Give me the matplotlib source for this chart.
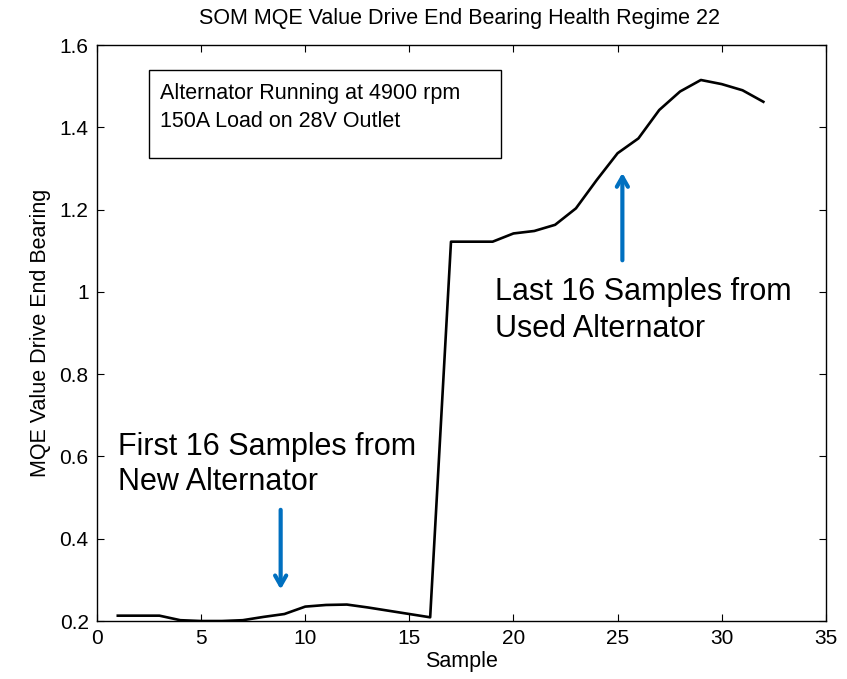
import matplotlib.pyplot as plt
from matplotlib.patches import Rectangle

plt.rcParams['font.family'] = ['Liberation Sans', 'DejaVu Sans']

# SOM MQE value per sample, drive end bearing
samples = list(range(1, 33))
mqe = [0.213, 0.213, 0.213, 0.202, 0.200, 0.200, 0.202, 0.210,
       0.217, 0.235, 0.239, 0.240, 0.233, 0.225, 0.217, 0.209,
       1.122, 1.122, 1.122, 1.142, 1.148, 1.163, 1.203, 1.272,
       1.337, 1.373, 1.442, 1.487, 1.515, 1.505, 1.490, 1.462]

xticks = [0, 5, 10, 15, 20, 25, 30, 35]
yticks = [0.2, 0.4, 0.6, 0.8, 1.0, 1.2, 1.4, 1.6]
ytick_labels = ['0.2', '0.4', '0.6', '0.8', '1', '1.2', '1.4', '1.6']

box_lines = ['Alternator Running at 4900 rpm', '150A Load on 28V Outlet']
new_lines = ['First 16 Samples from', 'New Alternator']
used_lines = ['Last 16 Samples from', 'Used Alternator']

fig = plt.figure(figsize=(8.47, 6.79), dpi=100)
ax = fig.add_axes([0.1145, 0.0854, 0.8605, 0.8483])

ax.plot(samples, mqe, color='black', lw=1.9)

ax.set_xlim(0, 35)
ax.set_ylim(0.2, 1.6)
ax.set_xticks(xticks)
ax.set_yticks(yticks)
ax.set_yticklabels(ytick_labels)
ax.tick_params(direction='in', length=5, top=True, right=True, labelsize=15, pad=6)
for s in ax.spines.values():
    s.set_linewidth(1.0)

ax.set_xlabel('Sample', fontsize=15.5, labelpad=2)
ax.set_ylabel('MQE Value Drive End Bearing', fontsize=15.5, labelpad=6)
fig.text(0.543, 0.973, 'SOM MQE Value Drive End Bearing Health Regime 22',
         ha='center', va='center', fontsize=15.5)

# operating conditions box
ax.add_patch(Rectangle((2.5, 1.325), 16.9, 0.214, fill=False, lw=1.0,
                       edgecolor='black', zorder=3))
for line, y in zip(box_lines, [1.469, 1.401]):
    ax.text(3.02, y, line, fontsize=15.5, va='baseline')

blue = '#0070C0'
head = '->,head_length=0.7,head_width=0.4'
ax.annotate('', xy=(8.82, 0.27), xytext=(8.82, 0.477),
            arrowprops=dict(arrowstyle=head, color=blue, lw=3))
ax.annotate('', xy=(25.23, 1.296), xytext=(25.23, 1.07),
            arrowprops=dict(arrowstyle=head, color=blue, lw=3))

for line, y in zip(new_lines, [0.603, 0.518]):
    ax.text(1.0, y, line, fontsize=22, va='baseline')
for line, y in zip(used_lines, [0.980, 0.890]):
    ax.text(19.1, y, line, fontsize=22, va='baseline')

fig.savefig('out.png', dpi=100)
